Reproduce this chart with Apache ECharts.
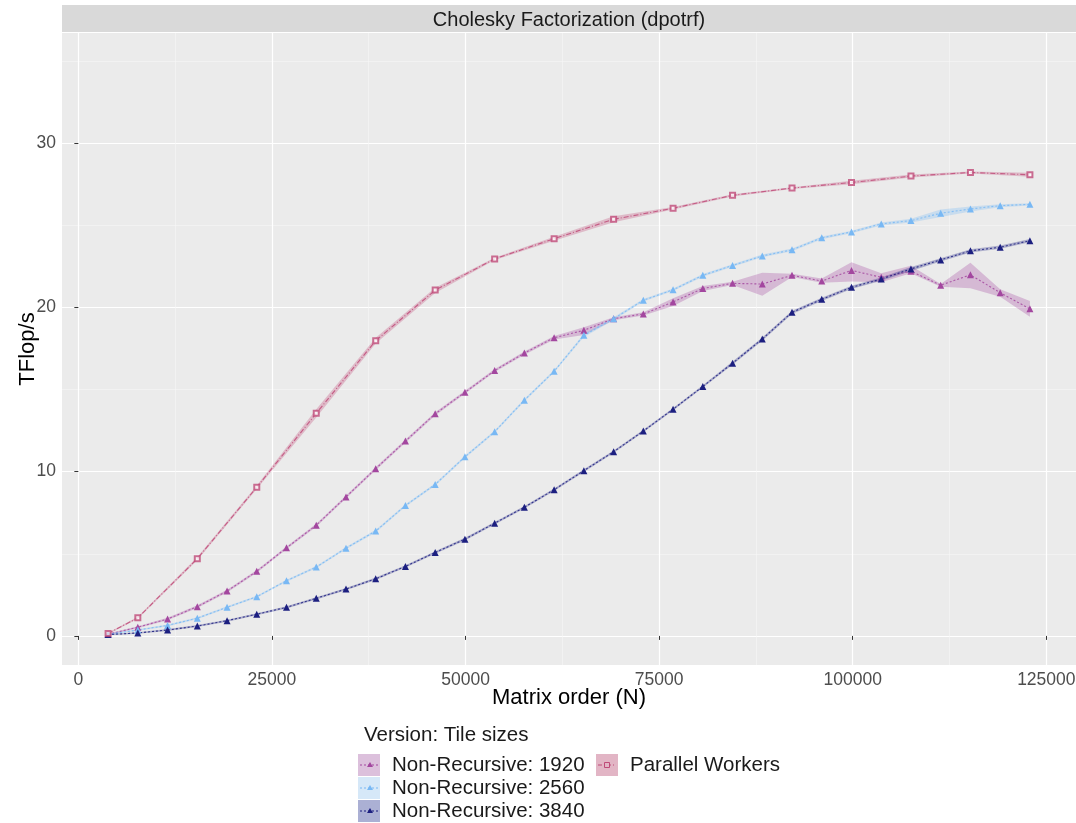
<!DOCTYPE html>
<html>
<head>
<meta charset="utf-8">
<script src="https://cdn.jsdelivr.net/npm/echarts@6/dist/echarts.min.js"></script>
<style>
html,body{margin:0;padding:0;background:#fff;}
#chart{width:1076px;height:823px;}
</style>
</head>
<body>
<div id="chart"></div>
<script>
// ---- data ----
const matrixOrderNR = [3840, 7680, 11520, 15360, 19200, 23040, 26880, 30720, 34560, 38400, 42240, 46080, 49920, 53760, 57600, 61440, 65280, 69120, 72960, 76800, 80640, 84480, 88320, 92160, 96000, 99840, 103680, 107520, 111360, 115200, 119040, 122880];
const matrixOrderPW = [3840, 7680, 15360, 23040, 30720, 38400, 46080, 53760, 61440, 69120, 76800, 84480, 92160, 99840, 107520, 115200, 122880];

const nr1920 = [0.1, 0.53, 1.03, 1.78, 2.73, 3.93, 5.36, 6.74, 8.46, 10.18, 11.86, 13.52, 14.83, 16.15, 17.22, 18.15, 18.6, 19.31, 19.6, 20.33, 21.15, 21.46, 21.42, 21.95, 21.6, 22.25, 21.83, 22.2, 21.35, 21.98, 20.89, 19.91];
const nr1920Lo = [0.05, 0.47, 0.96, 1.7, 2.65, 3.85, 5.27, 6.65, 8.37, 10.08, 11.76, 13.42, 14.74, 16.06, 17.12, 18.05, 18.32, 19.22, 19.5, 20.08, 21.0, 21.36, 20.7, 21.85, 21.5, 21.57, 21.53, 22.08, 21.25, 21.16, 20.65, 19.43];
const nr1920Hi = [0.15, 0.59, 1.1, 1.86, 2.81, 4.01, 5.45, 6.83, 8.55, 10.28, 11.96, 13.62, 14.92, 16.24, 17.32, 18.25, 18.79, 19.4, 19.7, 20.55, 21.3, 21.56, 22.1, 22.05, 21.75, 22.74, 22.08, 22.54, 21.42, 22.72, 21.1, 20.39];

const nr2560 = [0.1, 0.36, 0.64, 1.08, 1.74, 2.39, 3.36, 4.19, 5.34, 6.38, 7.94, 9.22, 10.9, 12.43, 14.35, 16.11, 18.3, 19.31, 20.43, 21.07, 21.95, 22.55, 23.13, 23.5, 24.23, 24.59, 25.08, 25.28, 25.73, 25.99, 26.19, 26.27];
const nr2560Lo = [0.06, 0.31, 0.58, 1.02, 1.68, 2.33, 3.3, 4.12, 5.27, 6.3, 7.86, 9.14, 10.82, 12.35, 14.27, 16.03, 18.2, 19.22, 20.35, 20.99, 21.87, 22.47, 23.05, 23.42, 24.15, 24.51, 24.99, 25.17, 25.5, 25.84, 26.1, 26.2];
const nr2560Hi = [0.14, 0.41, 0.7, 1.14, 1.8, 2.45, 3.42, 4.26, 5.41, 6.46, 8.02, 9.3, 10.98, 12.51, 14.43, 16.19, 18.4, 19.4, 20.51, 21.15, 22.03, 22.63, 23.21, 23.58, 24.31, 24.67, 25.17, 25.39, 25.95, 26.14, 26.28, 26.34];

const nr3840 = [0.08, 0.18, 0.36, 0.6, 0.93, 1.32, 1.74, 2.29, 2.85, 3.48, 4.23, 5.08, 5.89, 6.86, 7.83, 8.9, 10.06, 11.21, 12.47, 13.8, 15.18, 16.6, 18.07, 19.7, 20.49, 21.22, 21.72, 22.34, 22.89, 23.44, 23.66, 24.06];
const nr3840Lo = [0.04, 0.13, 0.3, 0.54, 0.87, 1.26, 1.67, 2.22, 2.78, 3.41, 4.16, 5.0, 5.81, 6.78, 7.75, 8.82, 9.98, 11.13, 12.39, 13.72, 15.1, 16.5, 17.97, 19.6, 20.39, 21.12, 21.62, 22.22, 22.79, 23.34, 23.56, 23.96];
const nr3840Hi = [0.12, 0.23, 0.42, 0.66, 0.99, 1.38, 1.81, 2.36, 2.92, 3.55, 4.3, 5.16, 5.97, 6.94, 7.91, 8.98, 10.14, 11.29, 12.55, 13.88, 15.26, 16.7, 18.17, 19.8, 20.59, 21.32, 21.82, 22.46, 22.99, 23.54, 23.76, 24.16];

const parallelWorkers = [0.15, 1.1, 4.7, 9.05, 13.55, 17.97, 21.05, 22.95, 24.18, 25.36, 26.03, 26.82, 27.26, 27.6, 27.99, 28.21, 28.07];
const parallelWorkersLo = [0.1, 1.04, 4.6, 8.95, 13.3, 17.8, 20.88, 22.88, 24.06, 25.18, 25.95, 26.75, 27.21, 27.5, 27.9, 28.15, 27.95];
const parallelWorkersHi = [0.2, 1.16, 4.8, 9.15, 13.8, 18.15, 21.2, 23.02, 24.3, 25.55, 26.11, 26.89, 27.31, 27.7, 28.08, 28.27, 28.2];

const xMajorTicks = [0, 25000, 50000, 75000, 100000, 125000];
const xMinorTicks = [12500, 37500, 62500, 87500, 112500];
const yMajorTicks = [0, 10, 20, 30];
const yMinorTicks = [5, 15, 25, 35];

const seriesNames = ['Non-Recursive: 1920', 'Non-Recursive: 2560', 'Non-Recursive: 3840', 'Parallel Workers'];

// ---- styles ----
const C1920 = '#a3479f', C2560 = '#78b8f4', C3840 = '#1c1f80', CPW = '#bf4a78';
const FONT = 'Liberation Sans, Arial, sans-serif';

function pairs(xs, ys) { return xs.map((x, i) => [x, ys[i]]); }

function ribbon(name, xs, lo, hi, color, opacity) {
  return {
    type: 'custom', name: name, silent: true, z: 1,
    xAxisIndex: 0, yAxisIndex: 0,
    data: [[xs[0], lo[0]]],
    renderItem: function (params, api) {
      const pts = [];
      for (let i = 0; i < xs.length; i++) pts.push(api.coord([xs[i], hi[i]]));
      for (let i = xs.length - 1; i >= 0; i--) pts.push(api.coord([xs[i], lo[i]]));
      return { type: 'polygon', shape: { points: pts }, style: { fill: color, opacity: opacity } };
    }
  };
}

function lineSeries(name, xs, ys, color, symbol, dash, size) {
  return {
    type: 'line', name: name, z: 3,
    xAxisIndex: 0, yAxisIndex: 0,
    data: pairs(xs, ys),
    symbol: symbol, symbolSize: size, showSymbol: true,
    itemStyle: { color: color, borderColor: color, borderWidth: symbol === 'emptyRect' ? 0.8 : 0, opacity: symbol === 'emptyRect' ? 0.8 : 1 },
    lineStyle: { color: color, width: 1.1, type: dash, opacity: 0.85 },
    emphasis: { disabled: true },
    animation: false
  };
}

const chart = echarts.init(document.getElementById('chart'), null, { renderer: 'canvas' });

const legendKeyColors = ['#dcc0dc', '#d6e8f8', '#abb0d4', '#e2b5c5'];

const option = {
  animation: false,
  backgroundColor: '#ffffff',
  textStyle: { fontFamily: FONT },
  grid: { left: 62, right: 0, top: 33, bottom: 158, show: true, backgroundColor: '#ebebeb', borderWidth: 0,
    containLabel: false, outerBoundsMode: 'none' },
  title: [
    { text: 'Cholesky Factorization (dpotrf)', left: 564, top: 15, textAlign: 'center', textVerticalAlign: 'middle',
      textStyle: { fontSize: 20, fontWeight: 'normal', color: '#1a1a1a', fontFamily: FONT } },
    { text: 'Version: Tile sizes', left: 359, top: 720,
      textStyle: { fontSize: 20.5, fontWeight: 'normal', color: '#1a1a1a', fontFamily: FONT } }
  ],
  graphic: [
    { type: 'rect', left: 62, top: 5, shape: { width: 1014, height: 27 }, style: { fill: '#d9d9d9' }, z: -1 },
    // legend key glyphs
    { type: 'line', shape: { x1: 360, y1: 765, x2: 380, y2: 765 }, style: { stroke: C1920, lineWidth: 1, lineDash: [2, 2] }, z: 100 },
    { type: 'polygon', shape: { points: [[370, 762], [373, 767], [367, 767]] }, style: { fill: C1920 }, z: 101 },
    { type: 'line', shape: { x1: 360, y1: 788, x2: 380, y2: 788 }, style: { stroke: C2560, lineWidth: 1, lineDash: [2, 2] }, z: 100 },
    { type: 'polygon', shape: { points: [[370, 785], [373, 790], [367, 790]] }, style: { fill: C2560 }, z: 101 },
    { type: 'line', shape: { x1: 360, y1: 811, x2: 380, y2: 811 }, style: { stroke: C3840, lineWidth: 1, lineDash: [2, 2] }, z: 100 },
    { type: 'polygon', shape: { points: [[370, 808], [373, 813], [367, 813]] }, style: { fill: C3840 }, z: 101 },
    { type: 'line', shape: { x1: 598, y1: 765, x2: 616, y2: 765 }, style: { stroke: CPW, lineWidth: 1, lineDash: [4, 2, 1, 2] }, z: 100 },
    { type: 'rect', shape: { x: 604.5, y: 762.5, width: 5, height: 5 }, style: { fill: '#e2b5c5', stroke: CPW, lineWidth: 1 }, z: 101 }
  ],
  legend: [
    { data: seriesNames.slice(0, 3).map((n, i) => ({ name: n, icon: 'rect', itemStyle: { color: legendKeyColors[i] } })),
      orient: 'vertical', left: 358, top: 754, itemWidth: 22, itemHeight: 22, itemGap: 1, padding: 0,
      selectedMode: false,
      textStyle: { fontSize: 20.5, lineHeight: 22, color: '#1a1a1a', fontFamily: FONT, padding: [0, 0, 0, 7] } },
    { data: [{ name: seriesNames[3], icon: 'rect', itemStyle: { color: legendKeyColors[3] } }],
      orient: 'vertical', left: 596, top: 754, itemWidth: 22, itemHeight: 22, itemGap: 1, padding: 0,
      selectedMode: false,
      textStyle: { fontSize: 20.5, lineHeight: 22, color: '#1a1a1a', fontFamily: FONT, padding: [0, 0, 0, 7] } }
  ],
  xAxis: [
    { type: 'value', min: -2112, max: 128832,
      name: 'Matrix order (N)', nameLocation: 'middle', nameGap: 22, nameMoveOverlap: false,
      nameTextStyle: { fontSize: 22, color: '#000', fontFamily: FONT },
      axisLine: { show: false },
      axisTick: { show: true, length: 4, lineStyle: { color: '#333', width: 1 }, customValues: xMajorTicks },
      axisLabel: { customValues: xMajorTicks, fontSize: 17.5, color: '#4d4d4d', margin: 6, fontFamily: FONT,
        formatter: v => String(v) },
      splitLine: { show: true, lineStyle: { color: '#ffffff', width: 1.2 } } },
    { type: 'value', min: -2112, max: 128832, show: true,
      axisLine: { show: false }, axisLabel: { show: false },
      axisTick: { show: false, customValues: xMinorTicks },
      splitLine: { show: true, lineStyle: { color: '#f7f7f7', width: 0.6 } } }
  ],
  yAxis: [
    { type: 'value', min: -1.77, max: 36.7,
      name: 'TFlop/s', nameLocation: 'middle', nameGap: 23, nameRotate: 90, nameMoveOverlap: false,
      nameTextStyle: { fontSize: 22, color: '#000', fontFamily: FONT },
      axisLine: { show: false },
      axisTick: { show: true, length: 4, lineStyle: { color: '#333', width: 1 }, customValues: yMajorTicks },
      axisLabel: { customValues: yMajorTicks, fontSize: 17.5, color: '#4d4d4d', margin: 6, fontFamily: FONT,
        formatter: v => String(v) },
      splitLine: { show: true, lineStyle: { color: '#ffffff', width: 1.2 } } },
    { type: 'value', min: -1.77, max: 36.7, show: true,
      axisLine: { show: false }, axisLabel: { show: false },
      axisTick: { show: false, customValues: yMinorTicks },
      splitLine: { show: true, lineStyle: { color: '#f7f7f7', width: 0.6 } } }
  ],
  series: [
    ribbon(seriesNames[0], matrixOrderNR, nr1920Lo, nr1920Hi, C1920, 0.3),
    ribbon(seriesNames[1], matrixOrderNR, nr2560Lo, nr2560Hi, C2560, 0.3),
    ribbon(seriesNames[2], matrixOrderNR, nr3840Lo, nr3840Hi, C3840, 0.3),
    ribbon(seriesNames[3], matrixOrderPW, parallelWorkersLo, parallelWorkersHi, CPW, 0.3),
    lineSeries(seriesNames[0], matrixOrderNR, nr1920, C1920, 'triangle', [2, 2], 7),
    lineSeries(seriesNames[1], matrixOrderNR, nr2560, C2560, 'triangle', [2, 2], 7),
    lineSeries(seriesNames[2], matrixOrderNR, nr3840, C3840, 'triangle', [2, 2], 7),
    lineSeries(seriesNames[3], matrixOrderPW, parallelWorkers, CPW, 'emptyRect', [5, 2, 1, 2], 5)
  ]
};
chart.setOption(option);
</script>
</body>
</html>
